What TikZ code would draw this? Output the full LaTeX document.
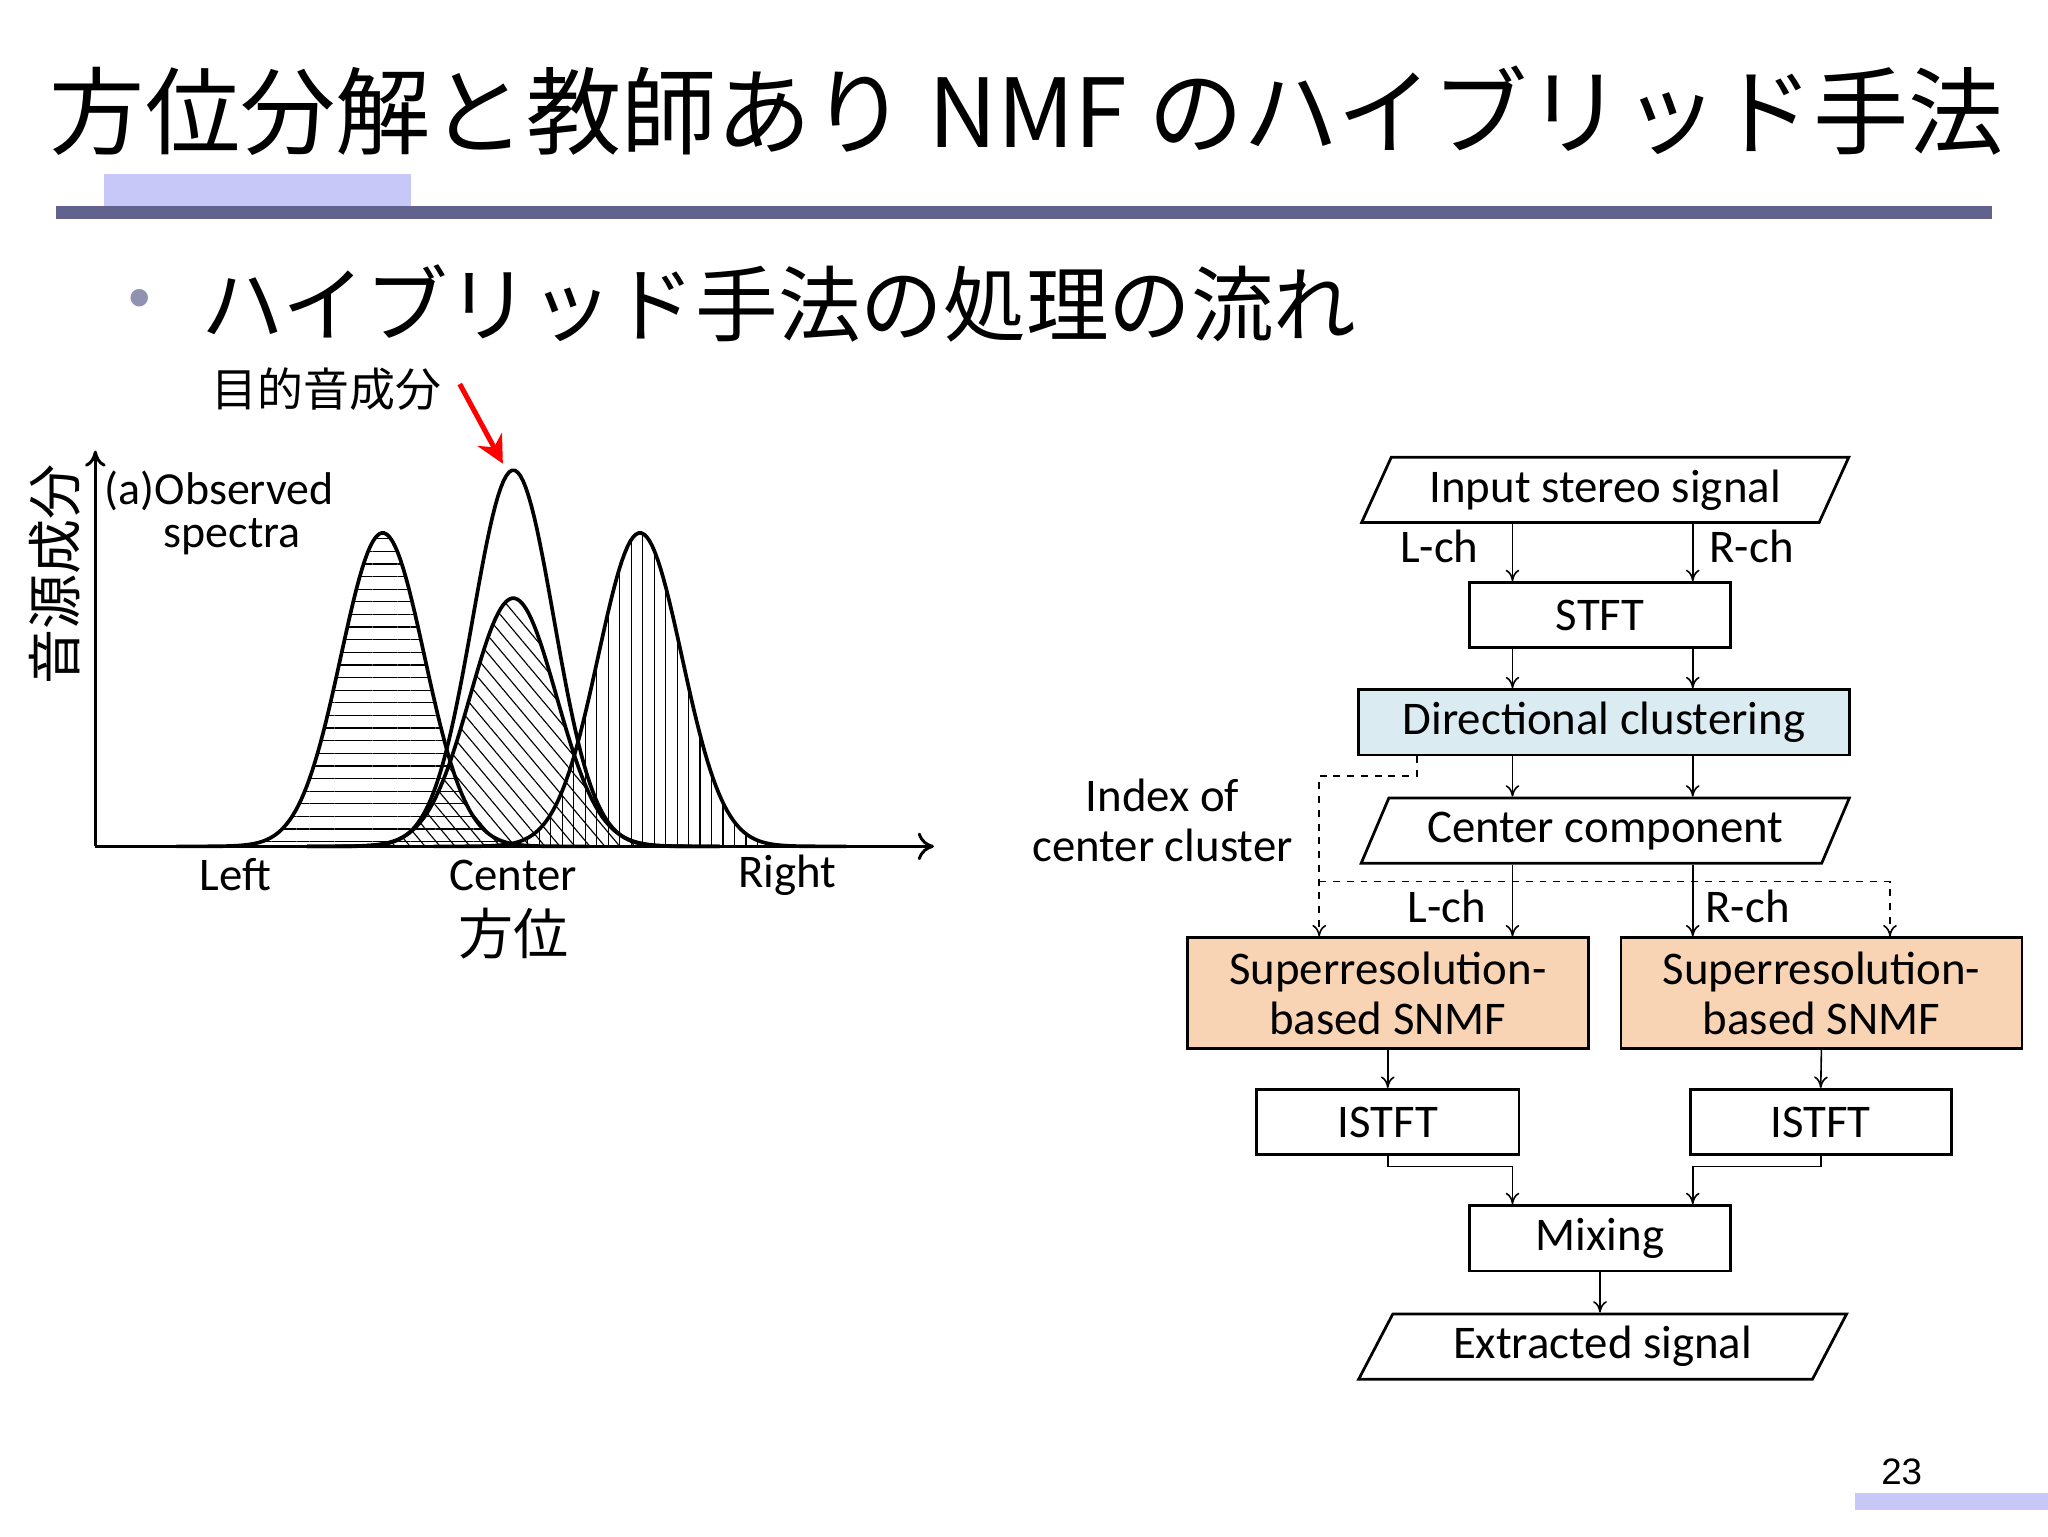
\documentclass[tikz,border=0pt]{standalone}
\usepackage{fontspec}
\setmainfont{Carlito}
\newfontfamily\jp{Noto Sans CJK JP}
\newfontfamily\arial{Liberation Sans}
\usetikzlibrary{shapes.geometric,patterns.meta,arrows.meta,calc}
\definecolor{bar}{HTML}{62628F}
\definecolor{lav}{HTML}{C8C8F8}
\definecolor{dcl}{HTML}{DAECF2}
\definecolor{snm}{HTML}{F8D4B4}
\begin{document}
\begin{tikzpicture}[x=0.2mm,y=-0.2mm,
  box/.style={draw,line width=1.2pt,minimum height=10mm,inner sep=0pt,font=\fontsize{20.4}{22}\selectfont},
  para/.style={draw,line width=1.2pt,trapezium,trapezium left angle=59,trapezium right angle=121,trapezium stretches=true,minimum height=10mm,minimum width=74.8mm,inner sep=0pt,font=\fontsize{20.4}{22}\selectfont},
  fl/.style={-{To[length=5pt,width=6pt]},line width=0.7pt},
  lbl/.style={font=\fontsize{20.4}{22}\selectfont},
  curve/.style={line width=1.6pt}]
\useasboundingbox (0,0) rectangle (1568,1176);
\fill[white] (0,0) rectangle (1568,1176);
% title
\node[anchor=west,font=\jp\fontsize{41.5}{44}\selectfont] (title) at (32,85) {方位分解と教師あり NMF のハイブリッド手法};
\fill[lav] (80,133) rectangle (315,158);
\fill[bar] (43,158) rectangle (1525,168);
\node[text=bar!70,font=\arial\fontsize{28}{30}\selectfont] (bul) at (107,233) {•};
\node[anchor=west,font=\jp\fontsize{36}{38}\selectfont] (sub) at (148,232) {ハイブリッド手法の処理の流れ};
% plot
\node[font=\jp\fontsize{20}{21}\selectfont] (mok) at (250,298) {目的音成分};
\coordinate (rs) at (352,294);
\coordinate (re) at (385,355);
\draw[red,line width=2.2pt,-{Stealth[length=12pt,width=12pt]}] (rs) -- (re);
\coordinate (o) at (73,648);
\coordinate (ytop) at (73,345);
\coordinate (xend) at (715,648);
\draw[line width=1.3pt,-{To[length=7pt,width=9pt]}] (o) -- (ytop);
\draw[line width=1.3pt,-{To[length=7pt,width=12pt]}] (o) -- (xend);
\node[rotate=90,font=\jp\fontsize{24}{25}\selectfont] (ylab) at (42,440) {音源成分};
\node[anchor=north west,align=left,font=\fontsize{20}{19}\selectfont,inner sep=0pt] (obs) at (80,360) {(a)Observed\\\hspace*{9mm}spectra};
\node[lbl] (lft) at (180,670) {Left};
\node[lbl] (ctr) at (393,670) {Center};
\node[lbl] (rgt) at (603,670) {Right};
\node[font=\jp\fontsize{24}{25}\selectfont] (hoi) at (393,715) {方位};
% hatched fills
\fill[pattern={Lines[angle=0,distance=5.5pt,line width=0.5pt]}] plot[domain=163:423,samples=120] (\x,{648-240*exp(-((\x-293)/32)^2/2)}) -- cycle;
\fill[pattern={Lines[angle=-50,distance=5pt,line width=0.5pt]}] plot[domain=263:523,samples=120] (\x,{648-190*exp(-((\x-393)/33)^2/2)}) -- cycle;
\fill[pattern={Lines[angle=90,distance=5pt,line width=0.5pt]}] plot[domain=360:620,samples=120] (\x,{648-240*exp(-((\x-490)/32)^2/2)}) -- cycle;
\draw[curve] plot[domain=135:451,samples=150] (\x,{648-240*exp(-((\x-293)/32)^2/2)});
\draw[curve] plot[domain=235:551,samples=150] (\x,{648-190*exp(-((\x-393)/33)^2/2)});
\draw[curve] plot[domain=235:551,samples=150] (\x,{648-288*exp(-((\x-393)/31)^2/2)});
\draw[curve] plot[domain=332:648,samples=150] (\x,{648-240*exp(-((\x-490)/32)^2/2)});
% flowchart
\coordinate (lx) at (1158,0);
\coordinate (rx) at (1296,0);
\node[para] (in) at (1229,375) {Input stereo signal};
\node[box,minimum width=40mm] (stft) at (1225,471) {STFT};
\node[box,fill=dcl,minimum width=75.2mm] (dc) at (1228,553) {Directional clustering};
\node[para] (cc) at (1229,636) {Center component};
\node[box,fill=snm,minimum width=61.4mm,minimum height=17mm,align=center,font=\fontsize{20.4}{21.5}\selectfont] (sl) at (1062.5,760.5) {Superresolution-\\based SNMF};
\node[box,fill=snm,minimum width=61.4mm,minimum height=17mm,align=center,font=\fontsize{20.4}{21.5}\selectfont] (sr) at (1394.5,760.5) {Superresolution-\\based SNMF};
\node[box,minimum width=40.2mm] (il) at (1062.5,859) {ISTFT};
\node[box,minimum width=40mm] (ir) at (1394,859) {ISTFT};
\node[box,minimum width=40mm] (mix) at (1225,948) {Mixing};
\node[para] (out) at (1227,1031) {Extracted signal};
\node[lbl] (l1) at (1102,418) {L-ch};
\node[lbl] (r1) at (1341,418) {R-ch};
\node[lbl] (l2) at (1108,694) {L-ch};
\node[lbl] (r2) at (1338,694) {R-ch};
\node[lbl,align=center,font=\fontsize{20.4}{21.5}\selectfont] (idx) at (890,628) {Index of\\center cluster};
\draw[fl] (in.south -| lx) -- (stft.north -| lx);
\draw[fl] (in.south -| rx) -- (stft.north -| rx);
\draw[fl] (stft.south -| lx) -- (dc.north -| lx);
\draw[fl] (stft.south -| rx) -- (dc.north -| rx);
\draw[fl] (dc.south -| lx) -- (cc.north -| lx);
\draw[fl] (dc.south -| rx) -- (cc.north -| rx);
\draw[fl] (cc.south -| lx) -- (sl.north -| lx);
\draw[fl] (cc.south -| rx) -- (sr.north -| rx);
\coordinate (d1) at (1085,594);
\coordinate (dl) at (1010,0);
\coordinate (dr) at (1447,0);
\coordinate (dh) at (0,675);
\draw[fl,dashed] (dc.south -| d1) -- (d1) -- (d1 -| dl) -- (sl.north -| dl);
\draw[fl,dashed] (dh -| dl) -- (dh -| dr) -- (sr.north -| dr);
\draw[fl] (sl.south) -- (il.north);
\draw[fl] (sr.south) -- (ir.north);
\coordinate (mh) at (0,893);
\draw[fl] (il.south) -- (il.south |- mh) -- (mh -| lx) -- (mix.north -| lx);
\draw[fl] (ir.south) -- (ir.south |- mh) -- (mh -| rx) -- (mix.north -| rx);
\draw[fl] (mix.south) -- (out.north -| mix.south);
% page number
\fill[lav] (1420,1143) rectangle (1568,1156);
\node[font=\arial\fontsize{16}{18}\selectfont] (pg) at (1456,1127) {23};
\end{tikzpicture}
\end{document}
